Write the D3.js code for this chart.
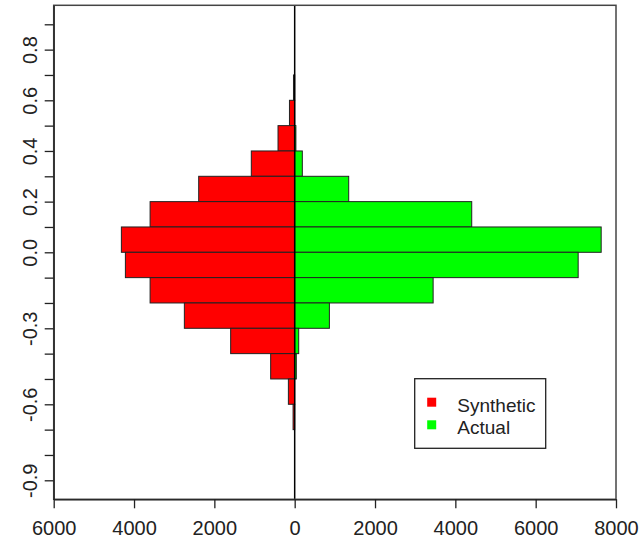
<!DOCTYPE html>
<html>
<head>
<meta charset="utf-8">
<script src="https://cdn.jsdelivr.net/npm/d3@7"></script>
<style>
  body { margin: 0; background: #fff; }
  text { font-family: "Liberation Sans", Arial, sans-serif; fill: #222; }
</style>
</head>
<body>
<div id="chart"></div>
<script>
// bin lower edges (each bin is 0.1 wide)
var binLo = [0.6, 0.5, 0.4, 0.3, 0.2, 0.1, 0.0, -0.1, -0.2, -0.3, -0.4, -0.5, -0.6, -0.7];
var synthetic = [30, 130, 415, 1080, 2390, 3600, 4315, 4215, 3600, 2747, 1594, 598, 157, 40];
var actual = [0, 0, 30, 190, 1345, 4408, 7631, 7058, 3447, 864, 100, 40, 0, 0];

var xTicks = [-6000, -4000, -2000, 0, 2000, 4000, 6000, 8000];
var yTicks = [-0.9, -0.8, -0.7, -0.6, -0.5, -0.4, -0.3, -0.2, -0.1, 0, 0.1, 0.2, 0.3, 0.4, 0.5, 0.6, 0.7, 0.8, 0.9];
var yLabelled = [0.8, 0.6, 0.4, 0.2, 0, -0.3, -0.6, -0.9];
var seriesNames = ["Synthetic", "Actual"];
var seriesColors = ["#ff0000", "#00ff00"];

var width = 641, height = 541;
var margin = {top: 5.3, right: 25, bottom: 41.7, left: 53.7};

var x = d3.scaleLinear().domain([-6000, 8000]).range([margin.left, width - margin.right]);
var y = d3.scaleLinear().domain([-0.975, 0.975]).range([height - margin.bottom, margin.top]);

var svg = d3.select("#chart").append("svg")
	.attr("width", width)
	.attr("height", height);

var rows = binLo.map(function(b, i) {
	return {lo: b, hi: b + 0.1, syn: synthetic[i], act: actual[i]};
});

// synthetic bars go left
svg.append("g").selectAll("rect")
	.data(rows)
	.enter().append("rect")
	.attr("x", function(d) { return x(-d.syn); })
	.attr("y", function(d) { return y(d.hi); })
	.attr("width", function(d) { return x(0) - x(-d.syn); })
	.attr("height", function(d) { return y(d.lo) - y(d.hi); })
	.attr("fill", seriesColors[0])
	.attr("stroke", "#222")
	.attr("stroke-width", 1);

// actual bars go right
svg.append("g").selectAll("rect")
	.data(rows.filter(function(d) { return d.act > 0; }))
	.enter().append("rect")
	.attr("x", x(0))
	.attr("y", function(d) { return y(d.hi); })
	.attr("width", function(d) { return x(d.act) - x(0); })
	.attr("height", function(d) { return y(d.lo) - y(d.hi); })
	.attr("fill", seriesColors[1])
	.attr("stroke", "#222")
	.attr("stroke-width", 1);

// zero line
svg.append("line")
	.attr("x1", x(0)).attr("x2", x(0))
	.attr("y1", y.range()[1]).attr("y2", y.range()[0])
	.attr("stroke", "#000")
	.attr("stroke-width", 1.5);

// plot box
svg.append("rect")
	.attr("x", x.range()[0])
	.attr("y", y.range()[1])
	.attr("width", x.range()[1] - x.range()[0])
	.attr("height", y.range()[0] - y.range()[1])
	.attr("fill", "none")
	.attr("stroke", "#444")
	.attr("stroke-width", 1.5);

// x axis
var xAxis = svg.append("g")
	.attr("transform", "translate(0," + y.range()[0] + ")")
	.call(d3.axisBottom(x)
		.tickValues(xTicks)
		.tickFormat(function(d) { return String(Math.abs(d)); })
		.tickSize(9)
		.tickSizeOuter(0)
		.tickPadding(13));
xAxis.selectAll("text").attr("font-size", 20).style("font-family", "'Liberation Sans', Arial, sans-serif").attr("fill", "#222");
xAxis.selectAll("line, path").attr("stroke", "#222").attr("stroke-width", 1.3);

// y axis, rotated labels
var yAxis = svg.append("g")
	.attr("transform", "translate(" + x.range()[0] + ",0)")
	.call(d3.axisLeft(y)
		.tickValues(yTicks)
		.tickFormat(function(d) {
			return yLabelled.some(function(v) { return Math.abs(v - d) < 1e-9; }) ? d.toFixed(1) : "";
		})
		.tickSize(9)
		.tickSizeOuter(0));
yAxis.selectAll("text")
	.attr("x", null)
	.attr("dy", null)
	.attr("y", -17)
	.attr("transform", "rotate(-90)")
	.attr("text-anchor", "middle")
	.attr("font-size", 20)
	.style("font-family", "'Liberation Sans', Arial, sans-serif")
	.attr("fill", "#222");
yAxis.selectAll("line, path").attr("stroke", "#222").attr("stroke-width", 1.3);

// legend
var legend = svg.append("g").attr("transform", "translate(414.7,378.7)");
legend.append("rect")
	.attr("width", 131)
	.attr("height", 69.6)
	.attr("fill", "#fff")
	.attr("stroke", "#222")
	.attr("stroke-width", 1.3);
seriesNames.forEach(function(name, i) {
	legend.append("rect")
		.attr("x", 12.5)
		.attr("y", 19 + i * 22.6)
		.attr("width", 9)
		.attr("height", 9)
		.attr("fill", seriesColors[i]);
	legend.append("text")
		.attr("x", 42.6)
		.attr("y", 33 + i * 22.6)
		.attr("font-size", 19)
		.text(name);
});
</script>
</body>
</html>
